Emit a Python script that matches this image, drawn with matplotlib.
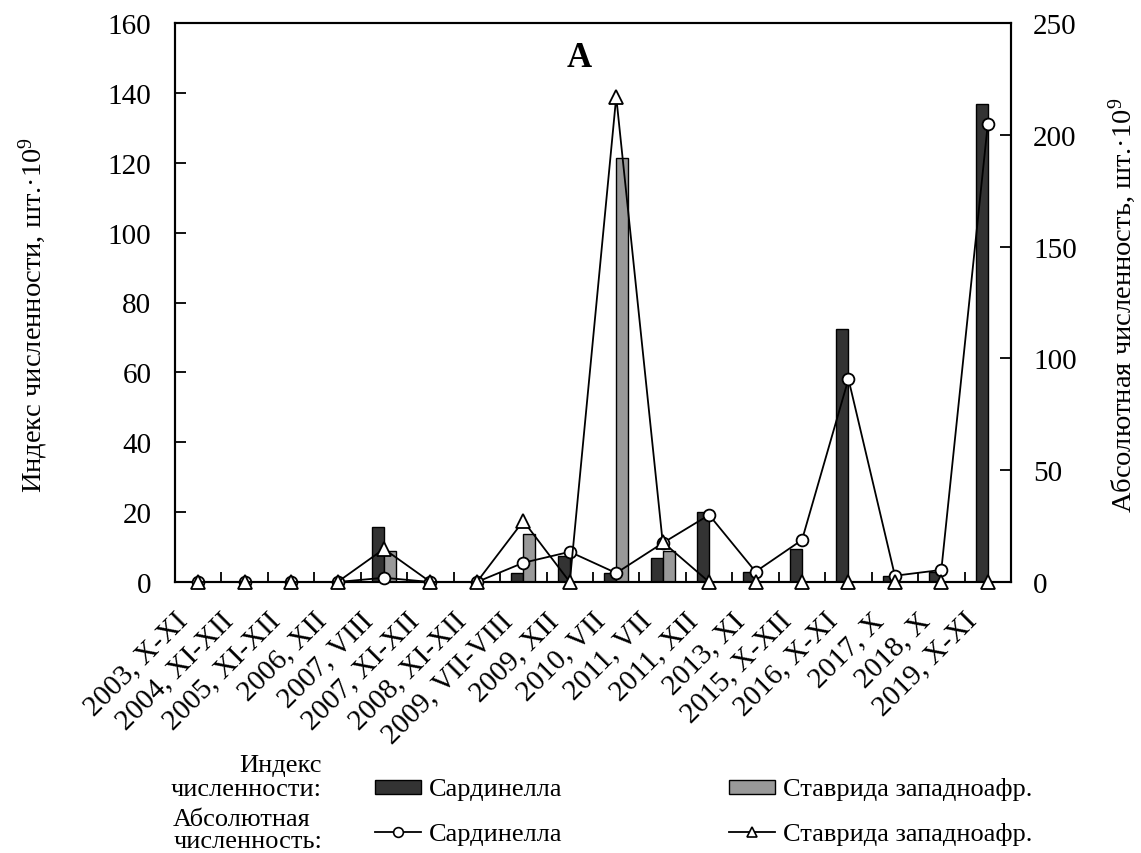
import numpy as np
import matplotlib
matplotlib.use("Agg")
import matplotlib.pyplot as plt
import matplotlib.transforms as mtransforms
from matplotlib.lines import Line2D
from matplotlib.patches import Rectangle
from matplotlib.ticker import MultipleLocator, FixedLocator

plt.rcParams["font.family"] = ["Liberation Serif", "DejaVu Serif"]
plt.rcParams["mathtext.fontset"] = "custom"
plt.rcParams["mathtext.rm"] = "Liberation Serif"
plt.rcParams["mathtext.it"] = "Liberation Serif:italic"

# ----------------------------------------------------------
# Data
# ----------------------------------------------------------
surveys = [
    "2003, X-XI", "2004, XI-XII", "2005, XI-XII", "2006, XII",
    "2007, VIII", "2007, XI-XII", "2008, XI-XII", "2009, VII-VIII",
    "2009, XII", "2010, VII", "2011, VII", "2011, XII", "2013, XI",
    "2015, X-XII", "2016, X-XI", "2017, X", "2018, X", "2019, X-XI",
]

# index of abundance (left axis), bars
index_sardinella = [0, 0, 0, 0, 15.6, 0, 0, 2.5, 7.5, 2.6, 7.0, 20.0,
                    3.0, 9.4, 72.4, 1.8, 2.9, 136.8]
index_horse_mackerel = [0, 0, 0, 0, 9.0, 0, 0, 13.7, 0, 121.3, 9.0, 0,
                        0, 0, 0, 0, 0, 0]

# absolute abundance (right axis), lines
abs_sardinella = [0, 0, 0, 0, 1.9, 0, 0, 8.6, 13.5, 4.0, 17.4, 30.0,
                  4.6, 18.8, 90.8, 2.8, 5.4, 204.8]
abs_horse_mackerel = [0, 0, 0, 0, 14.8, 0, 0, 27.3, 0, 217.0, 17.9, 0,
                      0, 0, 0, 0, 0, 0]

dark = "#333333"
grey = "#999999"
fs_tick = 21
fs_lab = 20.5
fs_leg = 19

W, H = 1141, 854
fig = plt.figure(figsize=(W / 100, H / 100), dpi=100)


def fx(px):
    return px / W


def fy(py):
    return 1 - py / H


ax = fig.add_axes([fx(175), fy(583), 836 / W, 559 / H])
ax2 = ax.twinx()

x = np.arange(len(surveys))
w = 0.26
ax.bar(x - w / 2, index_sardinella, w, color=dark, edgecolor="black", linewidth=1)
ax.bar(x + w / 2, index_horse_mackerel, w, color=grey, edgecolor="black", linewidth=1)

ax2.plot(x, abs_sardinella, color="black", lw=1.3, marker="o", ms=8.5,
         mfc="white", mec="black", mew=1.3, clip_on=False, zorder=3)
ax2.plot(x, abs_horse_mackerel, color="black", lw=1.3, marker="^", ms=9.5,
         mfc="white", mec="black", mew=1.3, clip_on=False, zorder=4)

ax.set_xlim(-0.5, len(surveys) - 0.5)
ax.set_ylim(0, 160)
ax2.set_ylim(0, 250)
ax.yaxis.set_major_locator(MultipleLocator(20))
ax2.yaxis.set_major_locator(MultipleLocator(50))

ax.set_xticks(x)
ax.set_xticklabels(surveys, rotation=45, ha="right", rotation_mode="anchor")
ax.xaxis.set_minor_locator(FixedLocator(np.arange(0.5, len(surveys) - 1, 1)))
ax.tick_params(axis="x", which="major", length=0, pad=8, labelsize=fs_tick)
ax.tick_params(axis="x", which="minor", direction="in", length=7, width=1.3)
ax.tick_params(axis="y", direction="in", length=8, width=1.3, labelsize=fs_tick, pad=17)
ax2.tick_params(axis="y", direction="in", length=8, width=1.3, labelsize=fs_tick, pad=16)

# shift rotated category labels so they end just left of the category centre
shift = mtransforms.ScaledTranslation(-24 / 100, -14 / 100, fig.dpi_scale_trans)
for lbl in ax.get_xticklabels():
    lbl.set_transform(lbl.get_transform() + shift)

for a in (ax, ax2):
    for s in a.spines.values():
        s.set_linewidth(1.5)

fig.text(fx(33), fy(315), "Индекс численности, шт.·10$^9$",
         rotation=90, ha="center", va="center", fontsize=fs_lab)
fig.text(fx(1122), fy(305), "Абсолютная численность, шт.·10$^9$",
         rotation=90, ha="center", va="center", fontsize=fs_lab)

ax.text(0.484, 0.939, "A", transform=ax.transAxes, ha="center", va="center",
        fontsize=25, fontweight="bold")

# ----------------------------------------------------------
# Legend (drawn by hand, two rows with row captions)
# ----------------------------------------------------------
row1_base, row2_base = 796, 841
col_x = [375, 729]          # left edge of the key
key_w = 46
text_gap = 8
names = ["Сардинелла", "Ставрида западноафр."]

for cx, color, name in zip(col_x, [dark, grey], names):
    fig.add_artist(Rectangle((fx(cx), fy(795)), key_w / W, 14 / H,
                             transform=fig.transFigure, facecolor=color,
                             edgecolor="black", linewidth=1))
    fig.text(fx(cx + key_w + text_gap), fy(row1_base), name,
             ha="left", va="baseline", fontsize=fs_leg)

for cx, marker, name in zip(col_x, ["o", "^"], names):
    fig.add_artist(Line2D([fx(cx), fx(cx + key_w)], [fy(833), fy(833)],
                          transform=fig.transFigure, color="black", lw=1.3))
    fig.add_artist(Line2D([fx(cx + key_w / 2)], [fy(833)],
                          transform=fig.transFigure, linestyle="none",
                          marker=marker, ms=7, mfc="white", mec="black", mew=1.2))
    fig.text(fx(cx + key_w + text_gap), fy(row2_base), name,
             ha="left", va="baseline", fontsize=fs_leg)

fig.text(fx(322), fy(row1_base), "Индекс\nчисленности:", ha="right",
         va="baseline", multialignment="right", fontsize=fs_leg, linespacing=1.1)
fig.text(fx(322), fy(848), "Абсолютная\nчисленность:", ha="right",
         va="baseline", multialignment="left", fontsize=fs_leg, linespacing=1.0)

fig.savefig("out.png", dpi=100)
